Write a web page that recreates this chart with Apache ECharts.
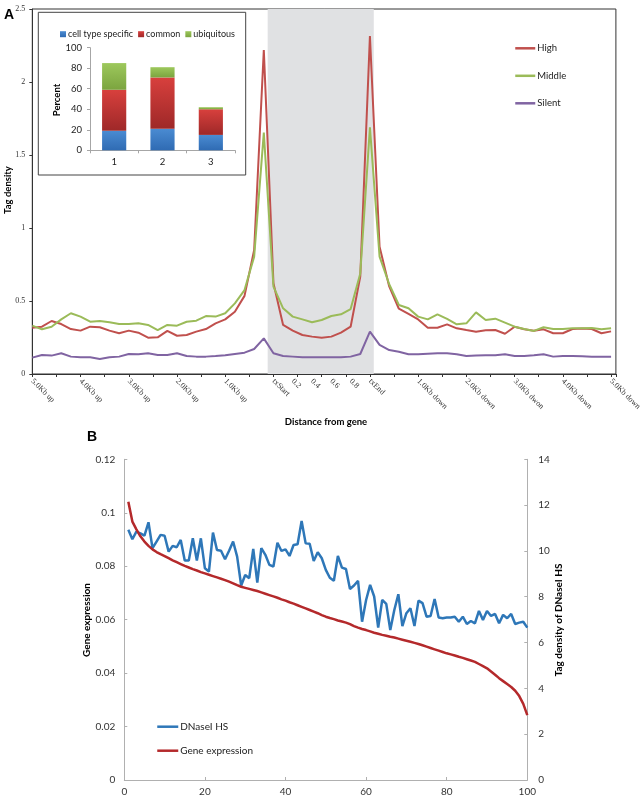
<!DOCTYPE html>
<html><head><meta charset="utf-8">
<script src="https://cdn.jsdelivr.net/npm/echarts@6/dist/echarts.min.js"></script>
<style>html,body{margin:0;padding:0;background:#fff}#c{width:644px;height:797px}</style>
</head><body><div id="c"></div>
<script>
// ---------- Panel A: tag density profiles (bin index 0..60) ----------
const profileHigh = [0.317,0.324,0.363,0.342,0.308,0.297,0.324,0.320,0.297,0.279,
  0.297,0.283,0.249,0.251,0.295,0.262,0.267,0.290,0.308,0.347,
  0.374,0.427,0.535,0.849,2.219,0.621,0.336,0.297,0.267,0.256,
  0.249,0.256,0.283,0.324,0.667,2.315,0.872,0.600,0.447,0.411,
  0.374,0.317,0.317,0.340,0.313,0.301,0.290,0.299,0.301,0.276,
  0.324,0.306,0.297,0.306,0.279,0.279,0.308,0.311,0.308,0.279,0.292];
const profileMiddle = [0.331,0.306,0.324,0.374,0.416,0.393,0.358,0.363,0.354,0.342,
  0.342,0.347,0.336,0.301,0.336,0.331,0.358,0.365,0.397,0.393,
  0.416,0.484,0.575,0.804,1.653,0.598,0.450,0.393,0.374,0.354,
  0.370,0.397,0.409,0.445,0.689,1.689,0.804,0.615,0.473,0.450,
  0.393,0.374,0.409,0.377,0.340,0.347,0.422,0.370,0.379,0.352,
  0.324,0.308,0.295,0.320,0.308,0.308,0.313,0.313,0.315,0.306,0.313];
const profileSilent = [0.112,0.130,0.126,0.142,0.119,0.114,0.114,0.103,0.114,0.119,
  0.137,0.135,0.142,0.130,0.130,0.142,0.123,0.119,0.119,0.123,
  0.128,0.137,0.146,0.171,0.244,0.142,0.123,0.119,0.114,0.114,
  0.114,0.114,0.114,0.119,0.137,0.290,0.199,0.164,0.153,0.135,
  0.135,0.139,0.142,0.142,0.135,0.123,0.126,0.128,0.128,0.135,
  0.123,0.123,0.128,0.135,0.119,0.123,0.123,0.121,0.119,0.119,0.119];
const xLabelPos  = [0,5,10,15,20,25,27,29,31,33,35,40,45,50,55,60];
const xLabelText = ['5.0Kb up','4.0Kb up','3.0Kb up','2.0Kb up','1.0Kb up','txStart','0.2','0.4','0.6','0.8','txEnd',
  '1.0Kb down','2.0Kb down','3.0Kb dwon','4.0Kb down','5.0Kb down'];
const geneBodyBand = [24.4, 35.4];

// ---------- Inset: stacked percent bars ----------
const insetCats = ['1','2','3'];
const cellTypeSpecific = [19, 21, 15];
const common = [40, 50, 25];
const ubiquitous = [26, 10, 2];

// ---------- Panel B ----------
const dnase = [10.92,10.51,10.84,10.77,10.67,11.25,10.12,10.41,10.70,10.66,
  9.97,10.22,10.16,10.48,9.58,9.58,10.55,9.58,10.55,9.24,
  9.10,10.80,10.04,10.01,9.64,10.01,10.41,9.75,8.49,8.95,
  8.81,10.09,8.62,10.12,9.83,9.39,9.32,10.36,10.00,10.07,
  9.78,10.26,10.29,11.31,10.33,10.31,9.56,9.94,9.68,9.17,
  8.83,8.70,9.78,9.27,9.21,8.34,8.49,8.69,6.91,7.86,
  8.52,8.01,6.65,7.86,7.69,6.55,7.42,8.11,6.72,7.28,
  7.50,6.72,7.83,7.72,7.13,7.16,7.90,7.09,7.06,7.09,
  7.09,7.13,6.91,7.13,6.81,6.94,6.84,7.38,6.99,7.38,
  7.16,7.25,6.84,7.21,7.06,7.25,6.81,6.87,6.91,6.65];
const geneExpr = [0.1041,0.0967,0.0938,0.0912,0.0892,0.0876,0.0863,0.0853,0.0845,0.0838,
  0.0830,0.0822,0.0815,0.0808,0.0801,0.0795,0.0789,0.0784,0.0778,0.0773,
  0.0768,0.0763,0.0758,0.0753,0.0748,0.0742,0.0736,0.0729,0.0723,0.0719,
  0.0715,0.0711,0.0707,0.0702,0.0697,0.0692,0.0687,0.0682,0.0676,0.0671,
  0.0665,0.0660,0.0654,0.0648,0.0642,0.0636,0.0630,0.0624,0.0617,0.0611,
  0.0606,0.0602,0.0597,0.0593,0.0589,0.0583,0.0576,0.0570,0.0565,0.0561,
  0.0556,0.0551,0.0547,0.0543,0.0540,0.0536,0.0533,0.0529,0.0525,0.0521,
  0.0517,0.0513,0.0509,0.0504,0.0499,0.0494,0.0489,0.0484,0.0479,0.0474,
  0.0470,0.0466,0.0461,0.0457,0.0452,0.0447,0.0442,0.0434,0.0426,0.0418,
  0.0406,0.0394,0.0381,0.0370,0.0359,0.0348,0.0334,0.0314,0.0285,0.0243];

const chart = echarts.init(document.getElementById('c'), null, {renderer:'canvas'});
const G = echarts.graphic.LinearGradient;
const grad = (a,b) => new G(0,0,0,1,[{offset:0,color:a},{offset:1,color:b}]);
const SANS = 'Lato';
const SERIF = 'Liberation Serif';
const labelFor = v => { const i = xLabelPos.findIndex(p => Math.abs(p - v) < 1e-6); return i >= 0 ? xLabelText[i] : ''; };

chart.setOption({
  animation: false,
  backgroundColor: '#fff',
  grid: [
    {left: 32.3, right: 23.3, top: 9, bottom: 423, show: true, borderColor: '#333', borderWidth: 1},
    {left: 90, right: 409, top: 47.7, bottom: 646.7},
    {left: 124.3, right: 116.7, top: 459.3, bottom: 17}
  ],
  xAxis: [
    {gridIndex:0, type:'value', min:0, max:60.5, interval:2.5,
     axisLine:{lineStyle:{color:'#333', width:1}}, axisTick:{show:true, length:3, lineStyle:{color:'#333'}},
     axisLabel:{show:false}, splitLine:{show:false}},
    {gridIndex:0, type:'value', min:0, max:60.5, interval:1, position:'bottom',
     axisLine:{show:false}, axisTick:{show:false}, splitLine:{show:false},
     axisLabel:{rotate:-45, margin:6, fontFamily:SERIF, fontSize:8, color:'#333', formatter: labelFor, hideOverlap:false}},
    {gridIndex:1, type:'category', data: insetCats,
     axisLine:{lineStyle:{color:'#a6a6a6'}}, axisTick:{show:true, length:3, lineStyle:{color:'#a6a6a6'}},
     axisLabel:{fontFamily:SANS, fontSize:9.5, color:'#222', margin:7}},
    {gridIndex:2, type:'value', min:0, max:100, interval:20,
     axisLine:{lineStyle:{color:'#b0b0b0'}}, axisTick:{show:true, inside:true, length:3, lineStyle:{color:'#b0b0b0'}},
     axisLabel:{fontFamily:SANS, fontSize:10, color:'#333', margin:7}, splitLine:{show:false}}
  ],
  yAxis: [
    {gridIndex:0, type:'value', min:0, max:2.5, interval:0.5,
     axisLine:{show:true, lineStyle:{color:'#333'}}, axisTick:{show:true, length:3, lineStyle:{color:'#333'}},
     axisLabel:{fontFamily:SERIF, fontSize:8, color:'#333', margin:7}, splitLine:{show:false}},
    {gridIndex:1, type:'value', min:0, max:100, interval:20,
     axisLine:{show:true, lineStyle:{color:'#a6a6a6'}}, axisTick:{show:true, length:3, lineStyle:{color:'#a6a6a6'}},
     axisLabel:{fontFamily:SANS, fontSize:9.5, color:'#222', margin:8}, splitLine:{show:false}},
    {gridIndex:2, type:'value', min:0, max:0.12, interval:0.02,
     axisLine:{show:true, lineStyle:{color:'#b0b0b0'}}, axisTick:{show:true, inside:true, length:3, lineStyle:{color:'#b0b0b0'}},
     axisLabel:{fontFamily:SANS, fontSize:10, color:'#333', margin:9, formatter: v => String(+v.toFixed(2))}, splitLine:{show:false}},
    {gridIndex:2, type:'value', position:'right', min:0, max:14, interval:2,
     axisLine:{show:true, lineStyle:{color:'#b0b0b0'}}, axisTick:{show:true, inside:true, length:3, lineStyle:{color:'#b0b0b0'}},
     axisLabel:{fontFamily:SANS, fontSize:10, color:'#333', margin:11}, splitLine:{show:false}}
  ],
  legend: [
    {data:['High','Middle','Silent'], orient:'vertical', left:509, top:38.3, itemWidth:20, itemHeight:10, itemGap:17.5,
     itemStyle:{opacity:0}, lineStyle:{width:2.5},
     textStyle:{fontFamily:SANS, fontSize:9.5, color:'#222', padding:[0,0,0,-3]}},
    {data:['cell type specific','common','ubiquitous'], left:55, top:24.7, itemWidth:6, itemHeight:6, itemGap:5, icon:'rect',
     textStyle:{fontFamily:SANS, fontSize:9, color:'#222', padding:[0,0,0,-3]}},
    {data:['DNaseI HS','Gene expression'], orient:'vertical', left:151, top:716.7, itemWidth:21, itemHeight:10, itemGap:14,
     itemStyle:{opacity:0}, lineStyle:{width:2.5},
     textStyle:{fontFamily:SANS, fontSize:10, color:'#222', padding:[0,0,0,-3]}}
  ],
  graphic: [
    {type:'rect', z:-1, shape:{x:38.3, y:12.3, width:207.4, height:162.7}, style:{fill:'none', stroke:'#444', lineWidth:1}},
    {type:'text', x:4, y:8, style:{text:'A', font:'bold 14px "Liberation Sans"', fill:'#000'}},
    {type:'text', x:87, y:430, style:{text:'B', font:'bold 14px "Liberation Sans"', fill:'#000'}},
    {type:'text', x:326, y:422, style:{text:'Distance from gene', font:'bold 9.5px Lato', fill:'#000', align:'center', verticalAlign:'middle'}},
    {type:'text', x:8, y:190, rotation:Math.PI/2, style:{text:'Tag density', font:'bold 9.5px Lato', fill:'#000', align:'center', verticalAlign:'middle'}},
    {type:'text', x:57, y:100, rotation:Math.PI/2, style:{text:'Percent', font:'bold 9.5px Lato', fill:'#000', align:'center', verticalAlign:'middle'}},
    {type:'text', x:87, y:620, rotation:Math.PI/2, style:{text:'Gene expression', font:'bold 10px Lato', fill:'#000', align:'center', verticalAlign:'middle'}},
    {type:'text', x:559, y:620, rotation:Math.PI/2, style:{text:'Tag density of DNaseI HS', font:'bold 10px Lato', fill:'#000', align:'center', verticalAlign:'middle'}}
  ],
  series: [
    {name:'_band', type:'line', xAxisIndex:0, yAxisIndex:0, data:[], z:1,
     markArea:{silent:true, itemStyle:{color:'#e0e1e3'}, data:[[{xAxis:geneBodyBand[0]},{xAxis:geneBodyBand[1]}]]}},
    {name:'High', type:'line', xAxisIndex:0, yAxisIndex:0, symbol:'none', data: profileHigh.map((v,i)=>[i,v]),
     lineStyle:{color:'#c0504d', width:2}, itemStyle:{color:'#c0504d'}},
    {name:'Middle', type:'line', xAxisIndex:0, yAxisIndex:0, symbol:'none', data: profileMiddle.map((v,i)=>[i,v]),
     lineStyle:{color:'#9bbb59', width:2}, itemStyle:{color:'#9bbb59'}},
    {name:'Silent', type:'line', xAxisIndex:0, yAxisIndex:0, symbol:'none', data: profileSilent.map((v,i)=>[i,v]),
     lineStyle:{color:'#8064a2', width:2}, itemStyle:{color:'#8064a2'}},
    {name:'cell type specific', type:'bar', stack:'p', xAxisIndex:2, yAxisIndex:1, barWidth:'50%', data: cellTypeSpecific,
     itemStyle:{color: grad('#4a8bd2','#2f6bb3')}},
    {name:'common', type:'bar', stack:'p', xAxisIndex:2, yAxisIndex:1, barWidth:'50%', data: common,
     itemStyle:{color: grad('#d8403d','#9e2828')}},
    {name:'ubiquitous', type:'bar', stack:'p', xAxisIndex:2, yAxisIndex:1, barWidth:'50%', data: ubiquitous,
     itemStyle:{color: grad('#9dc85c','#7ba43f')}},
    {name:'DNaseI HS', type:'line', xAxisIndex:3, yAxisIndex:3, symbol:'none', data: dnase.map((v,i)=>[i+1,v]),
     lineStyle:{color:'#2e77b8', width:2.5}, itemStyle:{color:'#2e77b8'}},
    {name:'Gene expression', type:'line', xAxisIndex:3, yAxisIndex:2, symbol:'none', data: geneExpr.map((v,i)=>[i+1,v]),
     lineStyle:{color:'#b4292b', width:2.5}, itemStyle:{color:'#b4292b'}}
  ]
});
</script></body></html>
